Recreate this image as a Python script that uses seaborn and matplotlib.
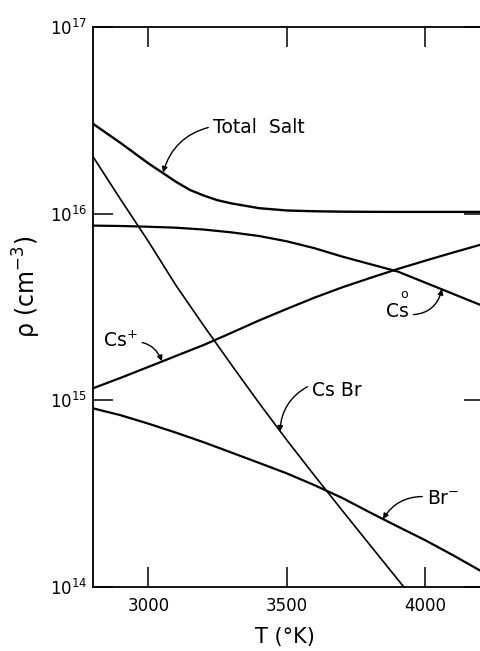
import matplotlib
matplotlib.use("Agg")
import matplotlib.pyplot as plt
import seaborn as sns
import pandas as pd
from matplotlib.ticker import FixedLocator, NullLocator

# ---- data ----
temperature = [2800, 2900, 3000, 3100, 3200, 3300, 3400, 3500,
               3600, 3700, 3800, 3900, 4000, 4100, 4200]
salt_temperature = [2800, 2900, 3000, 3050, 3100, 3150, 3200, 3250, 3300, 3400, 3500,
                    3600, 3700, 3800, 3900, 4000, 4100, 4200]
total_salt = [3.03e16, 2.39e16, 1.86e16, 1.66e16, 1.48e16, 1.34e16, 1.25e16, 1.18e16,
              1.135e16, 1.07e16, 1.04e16, 1.03e16, 1.025e16, 1.023e16, 1.022e16,
              1.022e16, 1.022e16, 1.022e16]
cs_br = [2.02e16, 1.19e16, 7.1e15, 4.12e15, 2.51e15, 1.55e15, 9.66e14, 6.12e14,
         3.95e14, 2.57e14, 1.68e14, 1.10e14, 7.2e13, 4.8e13, 3.2e13]
cs_neutral = [8.63e15, 8.59e15, 8.51e15, 8.41e15, 8.22e15, 7.94e15, 7.59e15, 7.11e15,
              6.53e15, 5.89e15, 5.37e15, 4.90e15, 4.27e15, 3.72e15, 3.24e15]
cs_plus = [1.16e15, 1.32e15, 1.51e15, 1.73e15, 1.98e15, 2.30e15, 2.68e15, 3.09e15,
           3.55e15, 4.03e15, 4.52e15, 5.05e15, 5.60e15, 6.19e15, 6.82e15]
br_minus = [9.06e14, 8.32e14, 7.50e14, 6.71e14, 5.96e14, 5.25e14, 4.62e14, 4.06e14,
            3.51e14, 3.00e14, 2.51e14, 2.11e14, 1.78e14, 1.48e14, 1.22e14]

series = [
    ("Total Salt", salt_temperature, total_salt, 1.7),
    ("Cs Br", temperature, cs_br, 1.2),
    ("Cs0", temperature, cs_neutral, 1.6),
    ("Cs+", temperature, cs_plus, 1.6),
    ("Br-", temperature, br_minus, 1.6),
]

x_ticks = [3000, 3500, 4000]
x_tick_labels = ["3000", "3500", "4000"]
y_ticks = [1e14, 1e15, 1e16, 1e17]
y_tick_labels = [r"$10^{14}$", r"$10^{15}$", r"$10^{16}$", r"$10^{17}$"]

# ---- styling ----
sns.set_style("ticks")
plt.rcParams["font.family"] = ["DejaVu Sans"]
plt.rcParams["mathtext.fontset"] = "dejavusans"
plt.rcParams["text.color"] = "black"
plt.rcParams["axes.labelcolor"] = "black"
plt.rcParams["xtick.color"] = "black"
plt.rcParams["ytick.color"] = "black"

fig = plt.figure(figsize=(4.8, 6.51), dpi=100)
ax = fig.add_axes([93 / 480, 64 / 651, 391 / 480, 560 / 651])

for name, tvals, vals, lw in series:
    df = pd.DataFrame({"T": tvals, "rho": vals})
    sns.lineplot(data=df, x="T", y="rho", ax=ax, color="black", lw=lw,
                 estimator=None, legend=False)

ax.set_yscale("log")
ax.set_xlim(2800, 4212)
ax.set_ylim(1e14, 1e17)

ax.xaxis.set_major_locator(FixedLocator(x_ticks))
ax.set_xticklabels(x_tick_labels)
ax.yaxis.set_major_locator(FixedLocator(y_ticks))
ax.yaxis.set_minor_locator(NullLocator())
ax.set_yticklabels(y_tick_labels)

ax.tick_params(axis="both", which="major", direction="in", length=14.5, width=1.1,
               top=True, right=True, labelsize=12, colors="black")
ax.tick_params(axis="x", pad=7)
ax.tick_params(axis="y", pad=4)
for s in ax.spines.values():
    s.set_linewidth(1.3)
    s.set_color("black")

ax.set_xlabel("T (°K)", fontsize=15)
ax.set_ylabel(r"ρ (cm$^{-3}$)", fontsize=17)
ax.xaxis.set_label_coords(0.49, -0.071)
ax.yaxis.set_label_coords(-0.128, 0.535)

def note(text, xy, xytext, rad, relpos):
    ax.annotate(text, xy=xy, xytext=xytext, fontsize=13.5, ha="left", va="baseline",
                color="black",
                arrowprops=dict(arrowstyle="-|>", connectionstyle=f"arc3,rad={rad}",
                                color="black", lw=1.0, mutation_scale=8,
                                shrinkA=1, shrinkB=0, relpos=relpos))

note("Total  Salt", (3053, 1.66e16), (3233, 2.71e16), 0.3, (0, 0.55))
note(r"Cs$^{+}$", (3049, 1.62e15), (2836, 1.92e15), -0.4, (0.75, 0.45))
note("Cs", (4060, 3.95e15), (3858, 2.78e15), 0.4, (1.0, 0.35))
ax.annotate("o", xy=(3858, 2.78e15), xytext=(10, 14), textcoords="offset points",
            fontsize=9, ha="left", va="baseline", color="black")
note("Cs Br", (3475, 6.8e14), (3591, 1.06e15), 0.3, (0, 0.8))
note(r"Br$^{-}$", (3847, 2.31e14), (4006, 2.78e14), 0.3, (0, 0.6))

fig.savefig("out.png", dpi=100, facecolor="white")
